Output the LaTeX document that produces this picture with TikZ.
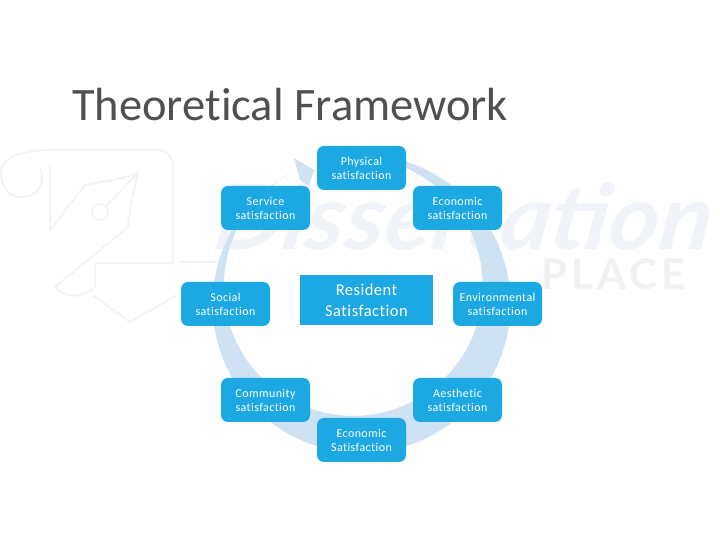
\documentclass[tikz,border=0pt]{standalone}
\usepackage{fontspec}
\setmainfont[Ligatures=NoCommon]{Carlito}
\newfontfamily\wmfont{Lato}
\definecolor{boxblue}{HTML}{1CA9E3}
\definecolor{ringblue}{HTML}{CFE2F3}
\definecolor{wmline}{HTML}{F3F3F3}
\definecolor{wmtext}{HTML}{F0F4F8}
\definecolor{wmgray}{HTML}{F1F1F1}
\definecolor{titlegray}{HTML}{505050}
\tikzset{
  x=1pt,y=1pt,
  item/.style={fill=boxblue,rounded corners=7pt,minimum width=89pt,minimum height=44pt,inner sep=0pt,
    text=white,align=center,font=\fontsize{12}{14}\selectfont\addfontfeatures{LetterSpace=3.5}},
  core/.style={fill=boxblue,minimum width=133pt,minimum height=50pt,inner sep=0pt,
    text=white,align=center,font=\fontsize{16.5}{21}\selectfont\addfontfeatures{LetterSpace=3}},
  wmstroke/.style={draw=wmline,line width=2pt,line cap=round,line join=round}
}
\begin{document}
\begin{tikzpicture}
\useasboundingbox (0,0) rectangle (720,540);
\fill[white] (0,0) rectangle (720,540);
% watermark
\draw[wmstroke] (40,372) .. controls (46,355) and (38,343) .. (20,343) .. controls (8,343) and (1,355) .. (1,367) .. controls (1,382) and (20,390) .. (50,390) -- (157,390) .. controls (168,390) and (173,382) .. (173,373) -- (173,277) -- (95,277) -- (95,253) .. controls (85,243) and (65,240) .. (55,253) -- (128,313) .. controls (130,335) and (134,350) .. (138,367) .. controls (120,360) and (100,358) .. (85,355) -- (50,310) -- (50,373);
\draw[wmstroke] (100,328) circle (8pt);
\draw[wmstroke] (106,334) -- (138,367);
\draw[wmstroke] (93,245) -- (130,218) -- (177,245);
\draw[wmstroke] (180,278) -- (217,278);
\node[text=wmtext,font=\wmfont\bfseries\itshape\fontsize{90}{90}\selectfont,anchor=base west,inner sep=0pt,xscale=1.075,xslant=0.12] (wm) at (212,290) {Dissertation};
\node[text=wmgray,font=\wmfont\bfseries\fontsize{42}{42}\selectfont\addfontfeatures{LetterSpace=10},anchor=base west,inner sep=0pt] (wmb) at (541,250) {PLACE};
% ring
\fill[ringblue] (361.5,236) ++(100:149) arc (100:-245:149) -- ++(0,0) arc (-245:100:129.5) -- cycle;
\fill[ringblue] (294,382) -- (314,370) -- (309,354) -- (300,360) -- cycle;
% boxes
\node[item] (phys) at (361.5,372) {Physical\\satisfaction};
\node[item] (econ) at (457.5,332) {Economic\\satisfaction};
\node[item] (env)  at (497.5,236) {Environmental\\satisfaction};
\node[item] (aes)  at (457.5,140) {Aesthetic\\satisfaction};
\node[item] (ecs)  at (361.5,100) {Economic\\Satisfaction};
\node[item] (com)  at (265.5,140) {Community\\satisfaction};
\node[item] (soc)  at (225.5,236) {Social\\satisfaction};
\node[item] (ser)  at (265.5,332) {Service\\satisfaction};
\node[core] (res)  at (366.5,240) {Resident\\Satisfaction};
\node[text=titlegray,font=\fontsize{46.5}{48}\selectfont,anchor=base west,inner sep=0pt] (title) at (72,419) {Theoretical Framework};
\end{tikzpicture}
\end{document}
